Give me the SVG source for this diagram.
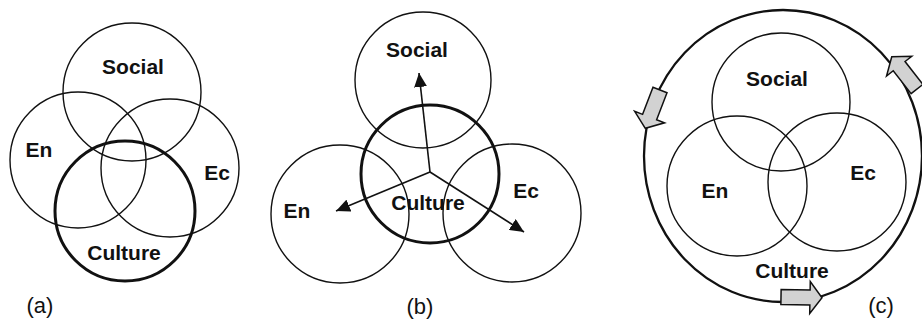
<svg xmlns="http://www.w3.org/2000/svg" width="922" height="322" viewBox="0 0 922 322">
<defs>
<style>
.c{fill:none;stroke:#111;stroke-width:1.4}
.ct{fill:none;stroke:#111;stroke-width:3}
.co{fill:none;stroke:#111;stroke-width:2.3}
.t{font-family:"Liberation Sans",Arial,sans-serif;font-weight:bold;font-size:21px;fill:#111;text-anchor:middle}
.p{font-family:"Liberation Sans",Arial,sans-serif;font-size:22px;fill:#111;text-anchor:middle}
.ln{stroke:#111;stroke-width:1.6;fill:none;marker-end:url(#ah)}
.ba{fill:#d2d2d2;stroke:#111;stroke-width:1.5;stroke-linejoin:miter}
</style>
<marker id="ah" markerUnits="userSpaceOnUse" markerWidth="15" markerHeight="13" refX="14" refY="6.5" orient="auto">
<path d="M0,0 L14,6.5 L0,13 Z" fill="#111"/>
</marker>
<path id="blk" d="M0,-7.5 L29,-7.5 L29,-16 L41,0 L29,16 L29,7.5 L0,7.5 Z"/>
</defs>
<rect width="922" height="322" fill="#fff"/>

<!-- Panel (a) -->
<g id="a-social"><circle class="c" cx="132" cy="92" r="69"/><text class="t" x="133" y="74">Social</text></g>
<g id="a-en"><circle class="c" cx="78" cy="160" r="68"/><text class="t" x="39" y="157">En</text></g>
<g id="a-ec"><circle class="c" cx="170" cy="168" r="69"/><text class="t" x="217" y="180">Ec</text></g>
<g id="a-culture"><circle class="ct" cx="125" cy="211" r="70"/><text class="t" x="124" y="260">Culture</text></g>
<text class="p" x="40" y="313">(a)</text>

<!-- Panel (b) -->
<g id="b-social"><circle class="c" cx="423" cy="80" r="68"/><text class="t" x="417" y="57">Social</text></g>
<g id="b-en"><circle class="c" cx="340" cy="214" r="69"/><text class="t" x="297" y="218">En</text></g>
<g id="b-ec"><circle class="c" cx="512" cy="213" r="69"/><text class="t" x="526" y="198">Ec</text></g>
<g id="b-culture"><circle class="ct" cx="430" cy="174" r="69"/><text class="t" x="428" y="210">Culture</text></g>
<text class="p" x="420" y="314">(b)</text>

<!-- Panel (c) -->
<g id="c-culture"><ellipse class="co" cx="783" cy="156" rx="139" ry="146"/><text class="t" x="792" y="278">Culture</text></g>
<g id="c-social"><circle class="c" cx="781" cy="102" r="69"/><text class="t" x="777" y="86">Social</text></g>
<g id="c-en"><circle class="c" cx="737" cy="186" r="70"/><text class="t" x="715" y="198">En</text></g>
<g id="c-ec"><circle class="c" cx="837" cy="182" r="69"/><text class="t" x="863" y="180">Ec</text></g>
<text class="p" x="881" y="313">(c)</text>

<!-- Connectors -->
<g id="connectors">
<line class="ln" x1="430" y1="172" x2="419" y2="73"/>
<line class="ln" x1="430" y1="172" x2="336" y2="211"/>
<line class="ln" x1="430" y1="172" x2="524" y2="232"/>
<use href="#blk" class="ba" transform="translate(660,90) rotate(111)"/>
<use href="#blk" class="ba" transform="translate(917,89) rotate(232)"/>
<use href="#blk" class="ba" transform="translate(781,297) rotate(1)"/>
</g>
</svg>
